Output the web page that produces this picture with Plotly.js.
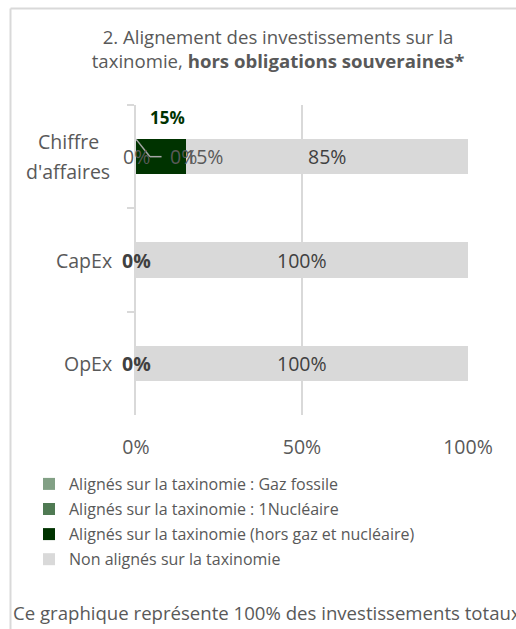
<!DOCTYPE html>
<html>
<head>
<meta charset="utf-8">
<script src="https://cdn.plot.ly/plotly-3.0.1.min.js"></script>
<style>
  html, body { margin: 0; padding: 0; background: #ffffff; }
  #chart { width: 516px; height: 629px; }
</style>
</head>
<body>
<div id="chart"></div>
<script>
// Categories (top to bottom) and their displayed labels
const categories = ["Chiffre d'affaires", "CapEx", "OpEx"];
const categoryLabelLines = [["Chiffre", "d'affaires"], ["CapEx"], ["OpEx"]];

// Share of investments per category, in %
const gazFossile = [0, 0, 0];
const nucleaire = [0, 0, 0];
const horsGazNucleaire = [15, 0, 0];
const nonAlignes = [85, 100, 100];

const seriesNames = [
  "Alignés sur la taxinomie : Gaz fossile",
  "Alignés sur la taxinomie : 1Nucléaire",
  "Alignés sur la taxinomie (hors gaz et nucléaire)",
  "Non alignés sur la taxinomie"
];
const seriesColors = ["#82a085", "#4f7a53", "#003300", "#d9d9d9"];

const xTicks = [0, 50, 100];
const titleLines = ["2. Alignement des investissements sur la", "taxinomie, ", "hors obligations souveraines*"];
const footerText = "Ce graphique représente 100% des investissements totaux";

// Plot box in page pixels
const W = 516, H = 629;
const L = 136, R = 468, T = 105, B = 415;
const px = x => (x - L) / (R - L);
const py = y => (B - y) / (B - T);

const FONT = "Open Sans, sans-serif";
const GREY = "#595959";
const DARK = "#404040";
const BAR_W = 0.34;

const allSeries = [gazFossile, nucleaire, horsGazNucleaire, nonAlignes];
const traces = allSeries.map((vals, i) => ({
  type: "bar",
  orientation: "h",
  name: seriesNames[i],
  legendgroup: "g" + i,
  y: categories,
  x: vals,
  width: BAR_W,
  marker: { color: seriesColors[i], line: { width: 0 } },
  hoverinfo: "skip"
}));

const pct = v => v + "%";
const annotations = [];

// Category labels, one annotation per line so they stack like the axis text
categories.forEach((cat, i) => {
  const lines = categoryLabelLines[i];
  lines.forEach((line, k) => {
    const off = (lines.length - 1) / 2 - k;
    annotations.push({
      xref: "paper", yref: "y",
      x: lines.length > 1 ? px(68) : px(114),
      xanchor: lines.length > 1 ? "center" : "right",
      y: cat, yanchor: "middle", yshift: off * 30,
      text: line, showarrow: false,
      font: { family: FONT, size: 19.5, color: GREY }
    });
  });
});

// Value labels
categories.forEach((cat, i) => {
  const startNon = gazFossile[i] + nucleaire[i] + horsGazNucleaire[i];
  annotations.push({
    xref: "x", yref: "y", x: startNon + nonAlignes[i] / 2, y: cat,
    text: pct(nonAlignes[i]), showarrow: false,
    font: { family: FONT, size: 19.5, color: DARK }
  });
  if (horsGazNucleaire[i] > 0) {
    // small aligned share: labels crowd around the start of the bar
    annotations.push({
      xref: "x", yref: "y", x: 0, y: cat, text: pct(gazFossile[i]), showarrow: false,
      font: { family: FONT, size: 19.5, color: GREY }
    });
    annotations.push({
      xref: "x", yref: "y", x: 0, xshift: 47, y: cat, text: pct(nucleaire[i]), showarrow: false,
      font: { family: FONT, size: 19.5, color: GREY }
    });
    annotations.push({
      xref: "x", yref: "y", x: startNon, xshift: 18, y: cat, text: pct(horsGazNucleaire[i]), showarrow: false,
      font: { family: FONT, size: 19.5, color: GREY }
    });
    annotations.push({
      xref: "x", yref: "y", x: horsGazNucleaire[i] / 2, xshift: 7, y: cat, yshift: 39,
      text: "<b>" + pct(horsGazNucleaire[i]) + "</b>", showarrow: false,
      font: { family: FONT, size: 17, color: "#003300" }
    });
  } else {
    annotations.push({
      xref: "x", yref: "y", x: 0, y: cat,
      text: "<b>" + pct(horsGazNucleaire[i]) + "</b>", showarrow: false,
      font: { family: FONT, size: 19.5, color: DARK }
    });
  }
});

// Footer note
annotations.push({
  xref: "paper", yref: "paper", x: px(11), xanchor: "left", y: py(612), yanchor: "middle",
  text: footerText, showarrow: false,
  font: { family: FONT, size: 18.6, color: GREY }
});

const shapes = [
  // leader line towards the crowded labels
  { type: "line", xref: "x", yref: "y", x0: 0, y0: -BAR_W / 2, x1: 4.2, y1: 0,
    line: { color: "#a6a6a6", width: 1.5 } },
  { type: "line", xref: "x", yref: "y", x0: 4.2, y0: 0, x1: 7.7, y1: 0,
    line: { color: "#a6a6a6", width: 1.5 } },
  // chart frame
  { type: "line", xref: "paper", yref: "paper", x0: px(10.5), y0: py(H + 5), x1: px(10.5), y1: py(8.5),
    line: { color: "#d9d9d9", width: 2 } },
  { type: "line", xref: "paper", yref: "paper", x0: px(10.5), y0: py(8.5), x1: px(W + 5), y1: py(8.5),
    line: { color: "#d9d9d9", width: 2 } }
];

const layout = {
  width: W, height: H, autosize: false,
  margin: { l: L, r: W - R, t: T, b: H - B, pad: 0 },
  paper_bgcolor: "#ffffff", plot_bgcolor: "#ffffff",
  barmode: "stack",
  showlegend: true,
  font: { family: FONT, color: GREY },
  title: {
    text: titleLines[0] + "<br>" + titleLines[1] + "<b>" + titleLines[2] + "</b>",
    xref: "container", yref: "container",
    x: 278 / W, xanchor: "center",
    y: 1 - 44 / H, yanchor: "top",
    font: { family: FONT, size: 18.6, color: GREY }
  },
  xaxis: {
    range: [0, 100],
    tickvals: xTicks, ticktext: xTicks.map(pct),
    showgrid: true, gridcolor: "#d9d9d9", gridwidth: 1.5,
    zeroline: false, showline: false, ticks: "",
    ticklabelstandoff: 18,
    tickfont: { family: FONT, size: 19.5, color: GREY },
    fixedrange: true
  },
  yaxis: {
    type: "category",
    categoryorder: "array", categoryarray: categories,
    range: [2.5, -0.5],
    showline: true, linecolor: "#d9d9d9", linewidth: 2,
    ticks: "outside", tickson: "boundaries", ticklen: 7, tickwidth: 2, tickcolor: "#d9d9d9",
    showticklabels: false, showgrid: false, zeroline: false,
    fixedrange: true
  },
  legend: {
    x: px(29), xanchor: "left", y: py(467), yanchor: "top",
    orientation: "v", traceorder: "grouped", tracegroupgap: 1.3,
    itemwidth: 30, bgcolor: "rgba(0,0,0,0)", borderwidth: 0,
    font: { family: FONT, size: 16, color: GREY }
  },
  annotations: annotations,
  shapes: shapes
};

Plotly.newPlot("chart", traces, layout, { displayModeBar: false, staticPlot: true });
</script>
</body>
</html>
